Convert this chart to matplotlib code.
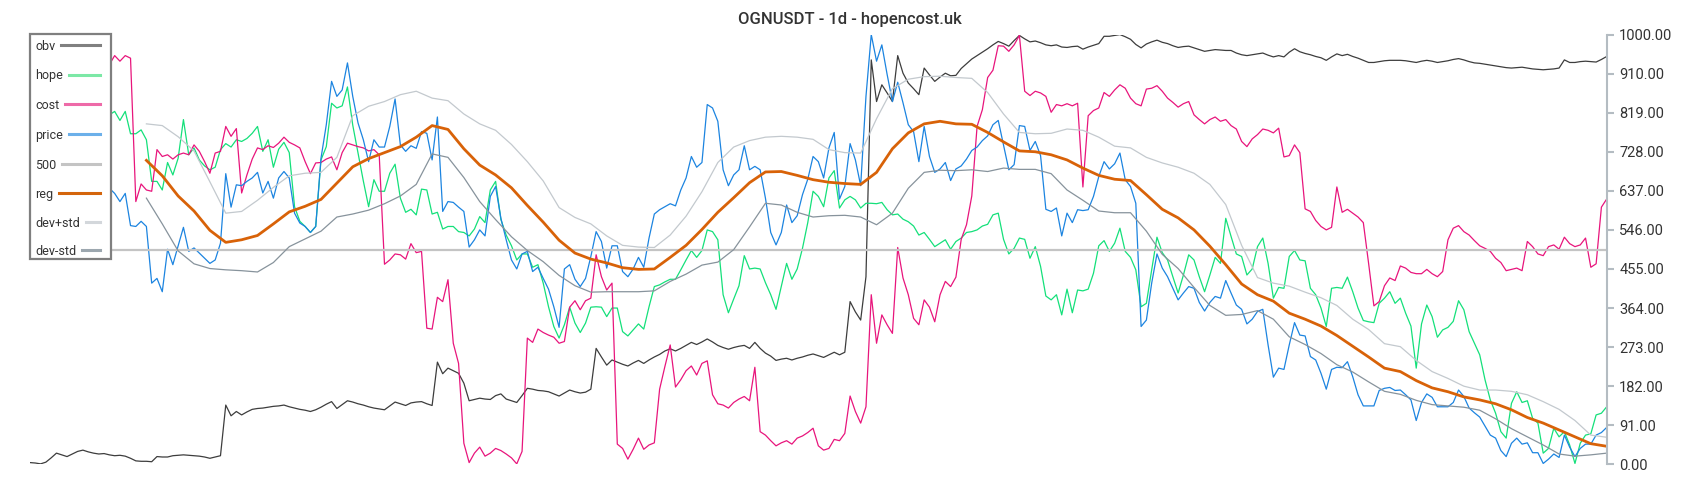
import numpy as np
import matplotlib
matplotlib.use("Agg")
import matplotlib.pyplot as plt
from matplotlib.patches import Rectangle
from matplotlib.lines import Line2D

plt.rcParams['font.family'] = ['Roboto', 'DejaVu Sans']

# daily values, day 0 .. 298
obv = [4, 3, 1, 5, 15, 26, 22, 18, 24, 30,
       33, 29, 26, 24, 25, 22, 20, 21, 19, 14,
       8, 7, 7, 6, 18, 17, 17, 20, 21, 22,
       21, 20, 19, 17, 14, 17, 20, 138, 113, 123,
       115, 122, 128, 130, 131, 133, 135, 136, 138, 134,
       131, 128, 126, 123, 127, 133, 140, 146, 130, 139,
       148, 145, 141, 138, 134, 131, 129, 127, 136, 145,
       141, 137, 143, 145, 146, 141, 137, 238, 211, 224,
       218, 212, 189, 148, 151, 154, 152, 151, 160, 164,
       152, 148, 144, 160, 177, 175, 172, 171, 169, 164,
       159, 166, 173, 169, 166, 168, 175, 270, 250, 231,
       243, 238, 233, 229, 236, 242, 235, 243, 250, 256,
       264, 269, 264, 270, 277, 284, 279, 285, 292, 285,
       277, 272, 268, 272, 275, 277, 270, 284, 270, 259,
       252, 242, 245, 247, 243, 247, 250, 254, 257, 253,
       249, 255, 261, 255, 261, 379, 355, 336, 437, 942,
       845, 884, 865, 845, 952, 911, 888, 875, 861, 923,
       907, 892, 902, 911, 905, 906, 922, 933, 944, 952,
       960, 968, 977, 985, 980, 974, 987, 999, 991, 984,
       986, 982, 977, 975, 977, 972, 971, 973, 974, 967,
       972, 976, 980, 997, 997, 999, 1001, 996, 990, 978,
       970, 979, 984, 988, 983, 980, 975, 971, 973, 974,
       970, 966, 962, 964, 966, 965, 964, 964, 958, 954,
       952, 954, 956, 958, 953, 949, 952, 949, 960, 968,
       961, 957, 954, 950, 947, 941, 949, 956, 952, 955,
       950, 946, 941, 936, 936, 938, 940, 941, 941, 941,
       940, 938, 936, 939, 941, 939, 936, 938, 940, 943,
       945, 942, 938, 935, 934, 932, 930, 928, 926, 924,
       923, 924, 925, 923, 921, 920, 919, 920, 921, 923,
       942, 936, 936, 938, 939, 938, 937, 943, 950]

hope = [805, 815, 798, 790, 808, 820, 812, 795, 800, 818,
        825, 810, 798, 805, 812, 814, 822, 801, 822, 770,
        770, 779, 756, 659, 659, 639, 703, 674, 713, 803,
        721, 737, 709, 695, 686, 692, 733, 747, 739, 756,
        752, 759, 771, 787, 729, 756, 692, 734, 750, 726,
        600, 566, 554, 540, 554, 709, 740, 841, 830, 835,
        879, 790, 725, 660, 600, 663, 636, 636, 678, 699,
        620, 587, 594, 581, 641, 639, 583, 587, 548, 554,
        554, 542, 540, 532, 548, 577, 563, 639, 659, 570,
        534, 509, 476, 490, 490, 459, 465, 422, 367, 321,
        294, 325, 366, 329, 307, 329, 366, 367, 366, 344,
        364, 364, 309, 299, 313, 327, 315, 367, 414, 418,
        425, 431, 431, 453, 476, 498, 482, 498, 546, 542,
        523, 395, 353, 385, 416, 486, 455, 457, 455, 423,
        395, 361, 414, 468, 431, 455, 503, 563, 636, 624,
        600, 667, 684, 597, 616, 624, 616, 597, 608, 608,
        607, 610, 593, 581, 583, 571, 565, 555, 534, 540,
        524, 507, 515, 523, 501, 519, 527, 540, 542, 546,
        555, 559, 581, 585, 524, 490, 503, 527, 524, 480,
        507, 461, 392, 383, 395, 348, 408, 353, 406, 404,
        408, 445, 509, 521, 496, 515, 550, 496, 482, 453,
        367, 375, 453, 529, 493, 476, 437, 399, 441, 488,
        476, 437, 402, 441, 482, 468, 573, 531, 490, 484,
        441, 455, 507, 527, 468, 387, 412, 410, 484, 498,
        476, 474, 410, 395, 364, 321, 410, 412, 410, 436,
        402, 364, 335, 332, 330, 375, 387, 402, 375, 387,
        352, 322, 224, 327, 371, 344, 296, 313, 319, 333,
        381, 360, 309, 282, 255, 197, 150, 119, 76, 61,
        142, 169, 144, 148, 107, 96, 26, 37, 84, 64,
        76, 45, 2, 49, 68, 71, 115, 119, 134]

cost = [915, 930, 945, 925, 910, 935, 950, 940, 920, 935,
        955, 945, 930, 940, 950, 931, 952, 939, 952, 946,
        612, 653, 639, 636, 733, 717, 721, 711, 721, 725,
        721, 744, 729, 705, 678, 725, 729, 787, 764, 782,
        632, 674, 711, 737, 733, 742, 738, 748, 762, 750,
        744, 737, 705, 677, 702, 703, 711, 716, 686, 726,
        748, 744, 740, 737, 730, 733, 721, 466, 476, 490,
        488, 478, 514, 493, 496, 317, 315, 389, 379, 430,
        282, 235, 49, 4, 26, 40, 19, 26, 37, 32,
        24, 15, 1, 30, 294, 284, 315, 307, 301, 296,
        282, 286, 366, 381, 360, 381, 387, 488, 437, 406,
        422, 47, 37, 12, 35, 61, 35, 45, 50, 175,
        228, 278, 180, 197, 218, 229, 208, 235, 241, 162,
        141, 138, 131, 144, 152, 158, 148, 226, 76, 68,
        55, 43, 50, 55, 47, 61, 66, 74, 84, 43,
        33, 37, 58, 55, 72, 159, 123, 96, 134, 395,
        282, 348, 325, 305, 505, 434, 395, 340, 325, 383,
        366, 332, 395, 426, 414, 436, 524, 558, 625, 787,
        826, 901, 918, 975, 974, 962, 977, 999, 869, 859,
        869, 865, 857, 820, 838, 835, 840, 835, 841, 646,
        812, 824, 830, 866, 857, 872, 884, 876, 853, 840,
        835, 874, 876, 882, 869, 853, 843, 832, 840, 845,
        814, 803, 793, 803, 809, 799, 803, 789, 781, 752,
        740, 758, 768, 781, 778, 772, 783, 716, 719, 744,
        726, 595, 589, 568, 554, 546, 552, 646, 587, 594,
        585, 576, 563, 468, 369, 379, 416, 434, 428, 462,
        457, 447, 444, 444, 454, 444, 437, 449, 523, 550,
        556, 542, 534, 521, 509, 503, 496, 480, 470, 451,
        454, 457, 451, 519, 507, 490, 486, 507, 511, 501,
        529, 514, 507, 511, 527, 459, 467, 599, 618]

price = [648, 655, 640, 632, 650, 662, 645, 638, 655, 660,
         642, 630, 648, 655, 650, 643, 631, 612, 631, 556,
         554, 566, 554, 422, 433, 402, 501, 465, 509, 552,
         496, 504, 492, 480, 468, 476, 515, 677, 599, 651,
         649, 659, 667, 680, 632, 659, 620, 667, 682, 667,
         585, 562, 554, 540, 554, 713, 791, 892, 857, 872,
         935, 857, 795, 756, 705, 756, 739, 739, 787, 851,
         744, 729, 742, 736, 775, 771, 709, 809, 589, 612,
         610, 599, 589, 506, 523, 546, 532, 624, 647, 573,
         523, 476, 455, 490, 496, 449, 459, 433, 408, 367,
         319, 455, 465, 431, 414, 433, 484, 542, 519, 457,
         509, 509, 449, 437, 455, 482, 459, 527, 583, 593,
         600, 607, 602, 639, 667, 717, 692, 703, 838, 830,
         799, 686, 649, 674, 686, 742, 686, 694, 686, 620,
         540, 511, 540, 604, 563, 579, 628, 664, 717, 705,
         667, 737, 773, 618, 647, 747, 709, 649, 857, 1001,
         939, 977, 908, 845, 890, 842, 791, 775, 705, 787,
         717, 680, 688, 703, 661, 688, 695, 711, 731, 739,
         754, 765, 791, 801, 744, 686, 698, 789, 787, 731,
         752, 719, 594, 589, 597, 532, 585, 563, 593, 591,
         593, 624, 670, 705, 688, 700, 725, 663, 647, 608,
         321, 336, 422, 490, 457, 437, 410, 383, 399, 414,
         410, 377, 357, 377, 391, 387, 428, 399, 371, 361,
         327, 338, 356, 361, 278, 203, 224, 221, 278, 330,
         301, 299, 251, 243, 212, 175, 221, 226, 225, 239,
         204, 162, 136, 136, 136, 172, 177, 179, 172, 173,
         162, 150, 102, 144, 164, 156, 134, 134, 134, 144,
         173, 158, 131, 120, 110, 89, 68, 61, 32, 18,
         49, 61, 47, 50, 27, 27, 2, 12, 24, 16,
         68, 40, 18, 37, 47, 47, 68, 74, 86]

level = 500

# regression line and its bands, every 3rd day from day 22
reg = [708, 672, 625, 590, 545, 517, 523, 533, 560, 588,
       601, 617, 655, 693, 712, 726, 740, 762, 789, 780,
       735, 697, 674, 644, 603, 564, 522, 492, 478, 469,
       458, 454, 455, 482, 510, 547, 587, 621, 656, 681,
       682, 673, 663, 657, 654, 652, 680, 735, 772, 793,
       799, 793, 792, 773, 751, 730, 728, 721, 709, 690,
       673, 664, 661, 628, 594, 574, 546, 508, 465, 420,
       395, 380, 352, 338, 322, 300, 275, 250, 224, 216,
       195, 178, 169, 157, 150, 141, 127, 109, 96, 80,
       64, 48, 42]

dev_hi = [793, 789, 763, 730, 658, 585, 589, 615, 645, 672,
          678, 680, 715, 812, 834, 845, 861, 869, 853, 847,
          816, 793, 778, 745, 705, 660, 598, 575, 560, 532,
          510, 506, 505, 534, 578, 635, 703, 739, 754, 762,
          764, 762, 757, 733, 726, 725, 805, 875, 897, 903,
          904, 901, 899, 866, 816, 773, 770, 771, 781, 778,
          762, 741, 737, 715, 702, 692, 678, 652, 605, 510,
          435, 422, 415, 401, 388, 370, 338, 314, 281, 274,
          242, 216, 200, 182, 173, 173, 170, 162, 146, 128,
          102, 68, 63]

dev_lo = [620, 560, 497, 467, 456, 453, 451, 448, 470, 507,
          525, 543, 576, 583, 592, 607, 625, 652, 723, 715,
          668, 612, 570, 530, 498, 472, 440, 416, 401, 402,
          402, 402, 404, 426, 443, 464, 471, 500, 553, 608,
          604, 587, 576, 579, 580, 576, 558, 585, 643, 680,
          685, 684, 686, 682, 690, 687, 687, 677, 639, 615,
          590, 586, 586, 543, 489, 456, 412, 370, 347, 349,
          358, 338, 297, 279, 258, 232, 215, 192, 170, 163,
          149, 139, 136, 133, 126, 106, 83, 64, 45, 24,
          19, 22, 26]

yticks = [0, 91, 182, 273, 364, 455, 546, 637, 728, 819, 910, 1000]

assert len(obv) == len(hope) == len(cost) == len(price) == 299
assert len(reg) == len(dev_hi) == len(dev_lo) == 93

days = np.arange(len(price))
days_reg = np.arange(22, 22 + 3 * len(reg), 3)

W, H = 1700, 500
fig = plt.figure(figsize=(17, 5), dpi=100)
ax = fig.add_axes([30 / W, 1 - 464.3 / H, (1606.7 - 30) / W, (464.3 - 35) / H])

ax.plot(days, obv, color='#3d3d3d', lw=0.9)
ax.plot(days, hope, color='#14e07a', lw=0.9)
ax.plot(days, cost, color='#e8157c', lw=0.9)
ax.plot(days, price, color='#1c84e0', lw=0.9)
ax.plot(days, [level] * len(days), color='#c4c4c4', lw=1.6)
ax.plot(days_reg, reg, color='#d86208', lw=2.0, solid_joinstyle='round')
ax.plot(days_reg, dev_hi, color='#c3c9ce', lw=0.9)
ax.plot(days_reg, dev_lo, color='#87939c', lw=0.9)

ax.set_xlim(0, 298)
ax.set_ylim(0, 1000)
ax.set_xticks([])
ax.yaxis.tick_right()
ax.set_yticks(yticks)
ax.set_yticklabels(['%.2f' % v for v in yticks])
ax.tick_params(axis='y', direction='out', length=5, width=1.5, color='#b4bcc2',
               labelsize=10.5, labelcolor='#333333', pad=4)
for s in ['top', 'left', 'bottom']:
    ax.spines[s].set_visible(False)
ax.spines['right'].set_color('#b4bcc2')
ax.spines['right'].set_linewidth(1.5)

fig.text(0.5, 1 - 19.5 / H, 'OGNUSDT - 1d - hopencost.uk', ha='center', va='center',
         fontsize=12, fontweight='medium', color='#333333')

# legend box drawn by hand: label left, line filling to the right edge
fig.add_artist(Rectangle((30 / W, 1 - 259 / H), 81 / W, 224.5 / H, transform=fig.transFigure,
                         facecolor='white', edgecolor='#7f7f7f', lw=1.6, zorder=10))
names = ['obv', 'hope', 'cost', 'price', '500', 'reg', 'dev+std', 'dev-std']
leg_colors = ['#808080', '#7ce8a6', '#ee6aa8', '#6cb0ea', '#c4c4c4', '#d4650c', '#d3d7db', '#9ca7af']
leg_y = [44.5, 74.5, 104, 134, 163.7, 192.7, 221.7, 250.3]
fig.canvas.draw()
r = fig.canvas.get_renderer()
for name, col, yy in zip(names, leg_colors, leg_y):
    t = fig.text(35 / W, 1 - yy / H, name, ha='left', va='center_baseline', fontsize=9,
                 color='#333333', zorder=11)
    x0 = t.get_window_extent(r).x1 + 6
    fig.add_artist(Line2D([x0 / W, 100 / W], [1 - yy / H] * 2, transform=fig.transFigure,
                          color=col, lw=2.2, zorder=11))

fig.savefig('out.png', dpi=100)
